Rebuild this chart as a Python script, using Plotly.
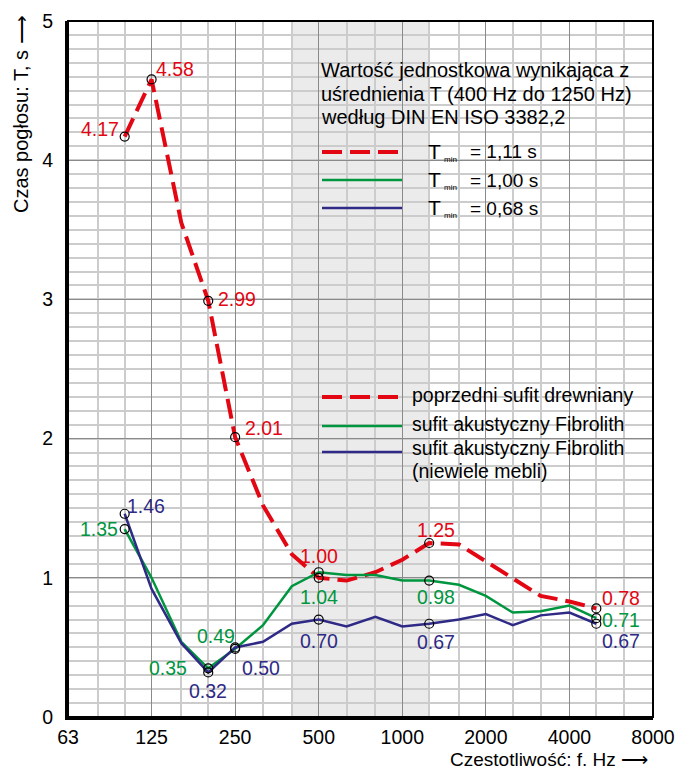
import math
import plotly.graph_objects as go

# ---------------- data ----------------
freqs = [100, 125, 160, 200, 250, 315, 400, 500, 630, 800, 1000, 1250,
         1600, 2000, 2500, 3150, 4000, 5000]
t_wood = [4.17, 4.58, 3.55, 2.99, 2.01, 1.52, 1.17, 1.00, 0.98, 1.04, 1.13, 1.25,
          1.24, 1.12, 1.00, 0.87, 0.83, 0.78]
t_fibro = [1.35, 1.00, 0.54, 0.35, 0.49, 0.66, 0.94, 1.04, 1.02, 1.02, 0.98, 0.98,
           0.95, 0.87, 0.75, 0.76, 0.80, 0.71]
t_fibro_few = [1.46, 0.92, 0.53, 0.32, 0.50, 0.54, 0.67, 0.70, 0.65, 0.72, 0.65, 0.67,
               0.70, 0.74, 0.66, 0.73, 0.75, 0.67]

octave_ticks = [62.5, 125, 250, 500, 1000, 2000, 4000, 8000]
octave_labels = ["63", "125", "250", "500", "1000", "2000", "4000", "8000"]
third_octave_grid = [80, 100, 160, 200, 315, 400, 630, 800, 1250, 1600,
                     2500, 3150, 5000, 6300]
y_ticks = [0, 1, 2, 3, 4, 5]

avg_band = [400, 1250]

# label offsets (pixels) for marked points: (index, dx, dy, xanchor)
wood_labels = [(0, -4, 8, "right"), (1, 2, 10, "left"), (3, 8, 2, "left"),
               (4, 8, 9, "left"), (7, 0, 22, "center"), (11, 7, 13, "center"),
               (17, 4, 10, "left")]
fibro_labels = [(0, -5, 0, "right"), (3, -19, 0, "right"), (4, -19, 13, "center"),
                (7, 0, -25, "center"), (11, 7, -16, "center"), (17, 4, -2, "left")]
few_labels = [(0, 0, 8, "left"), (3, 0, -19, "center"), (4, 5, -21, "left"),
              (7, 0, -21, "center"), (11, 7, -18, "center"), (17, 4, -17, "left")]

RED = "#e30613"
GREEN = "#00963f"
BLUE = "#2e2a86"
FONT = "Liberation Sans, Arial, sans-serif"

fig = go.Figure()

series = [
    (t_wood, RED, dict(width=4, dash="20px,8px"), wood_labels),
    (t_fibro, GREEN, dict(width=2.5), fibro_labels),
    (t_fibro_few, BLUE, dict(width=2.5), few_labels),
]

for vals, col, line, labels in series:
    fig.add_trace(go.Scatter(x=freqs, y=vals, mode="lines",
                             line=dict(color=col, **line), showlegend=False,
                             hoverinfo="skip"))

data_annotations = []
for vals, col, line, labels in series:
    idx = [l[0] for l in labels]
    fig.add_trace(go.Scatter(x=[freqs[i] for i in idx], y=[vals[i] for i in idx],
                             mode="markers",
                             marker=dict(symbol="circle-open", size=9,
                                         color="black", line=dict(width=1.2)),
                             showlegend=False, hoverinfo="skip"))
    for i, dx, dy, xa in labels:
        data_annotations.append(dict(
            x=math.log10(freqs[i]), y=vals[i], xref="x", yref="y",
            text=f"{vals[i]:.2f}", showarrow=False,
            xanchor=xa, yanchor="middle", xshift=dx, yshift=dy,
            font=dict(family=FONT, size=19.5, color=col)))

# ---------------- layout geometry ----------------
L, R, T, B = 68, 653, 21, 717
W, H = 675, 769


def px(xp):
    return (xp - L) / (R - L)


def py(yp):
    return (B - yp) / (B - T)


shapes = [
    dict(type="rect", xref="x", yref="y", x0=avg_band[0], x1=avg_band[1], y0=0, y1=5,
         fillcolor="#ebebeb", line=dict(width=0), layer="below"),
    dict(type="rect", xref="paper", yref="paper", x0=0, x1=1, y0=0, y1=1,
         line=dict(color="black", width=2), layer="above"),
]

legend_rows_top = [(152, RED, "20px,8px", 4, "= 1,11 s"),
                   (180, GREEN, "solid", 2.5, "= 1,00 s"),
                   (208, BLUE, "solid", 2.5, "= 0,68 s")]
for yy, col, dash, w, txt in legend_rows_top:
    shapes.append(dict(type="line", xref="paper", yref="paper",
                       x0=px(322), x1=px(402), y0=py(yy), y1=py(yy),
                       line=dict(color=col, width=w, dash=dash)))

legend_rows_bot = [(397, RED, "20px,8px", 4), (426, GREEN, "solid", 2.5),
                   (452, BLUE, "solid", 2.5)]
for yy, col, dash, w in legend_rows_bot:
    shapes.append(dict(type="line", xref="paper", yref="paper",
                       x0=px(322), x1=px(402), y0=py(yy), y1=py(yy),
                       line=dict(color=col, width=w, dash=dash)))

annotations = []


def ann(text, xp, yp, size=19.5, xanchor="left", yanchor="middle", color="black", **kw):
    annotations.append(dict(text=text, x=px(xp), y=py(yp), xref="paper", yref="paper",
                            showarrow=False, xanchor=xanchor, yanchor=yanchor,
                            font=dict(family=FONT, size=size, color=color), **kw))


ann("Wartość jednostkowa wynikająca z", 319, 70, size=20)
ann("uśrednienia T (400 Hz do 1250 Hz)", 319, 94, size=20)
ann("według DIN EN ISO 3382,2", 319, 117, size=20)

for yy, col, dash, w, txt in legend_rows_top:
    ann("T", 426, yy - 1, size=21)
    ann("min", 442, yy + 8, size=8)
    ann(txt, 468, yy, size=19)

ann("poprzedni sufit drewniany", 410, 395)
ann("sufit akustyczny Fibrolith", 410, 424)
ann("sufit akustyczny Fibrolith", 410, 448)
ann("(niewiele mebli)", 410, 471)

ann("Czestotliwość: f. Hz ⟶", 650, 760, size=19, xanchor="right")
annotations.append(dict(text="Czas pogłosu: T, s ⟶", x=px(21), y=py(13),
                        xref="paper", yref="paper", showarrow=False, textangle=-90,
                        xanchor="center", yanchor="top",
                        font=dict(family=FONT, size=20, color="black")))

fig.update_layout(
    width=W, height=H,
    margin=dict(l=L, r=W - R, t=T, b=H - B, autoexpand=False),
    paper_bgcolor="white", plot_bgcolor="white",
    font=dict(family=FONT, size=18, color="black"),
    shapes=shapes,
    annotations=data_annotations + annotations,
    xaxis=dict(type="log", range=[math.log10(62.5), math.log10(8000)],
               tickmode="array", tickvals=octave_ticks, ticktext=octave_labels,
               showgrid=True, gridcolor="#8a8a8a", gridwidth=1,
               minor=dict(tickmode="array", tickvals=third_octave_grid,
                          showgrid=True, gridcolor="#cccccc", gridwidth=2, ticks=""),
               showline=True, linecolor="black", linewidth=3, ticks="", ticklen=0,
               ticklabelstandoff=1, tickfont=dict(size=19.5), zeroline=False,
               automargin=False),
    yaxis=dict(range=[0, 5], tickmode="array", tickvals=y_ticks,
               showgrid=True, gridcolor="#8a8a8a", gridwidth=1,
               minor=dict(dtick=0.1, showgrid=True, gridcolor="#cccccc",
                          gridwidth=2, ticks=""),
               showline=True, linecolor="black", linewidth=3, ticks="", ticklen=0,
               ticklabelstandoff=8, tickfont=dict(size=19.5), zeroline=False,
               automargin=False),
)

fig.write_html("out.html",
               config={"displayModeBar": False},
               post_script="document.body.style.margin='0px';"
                           "document.body.style.overflow='hidden';")
